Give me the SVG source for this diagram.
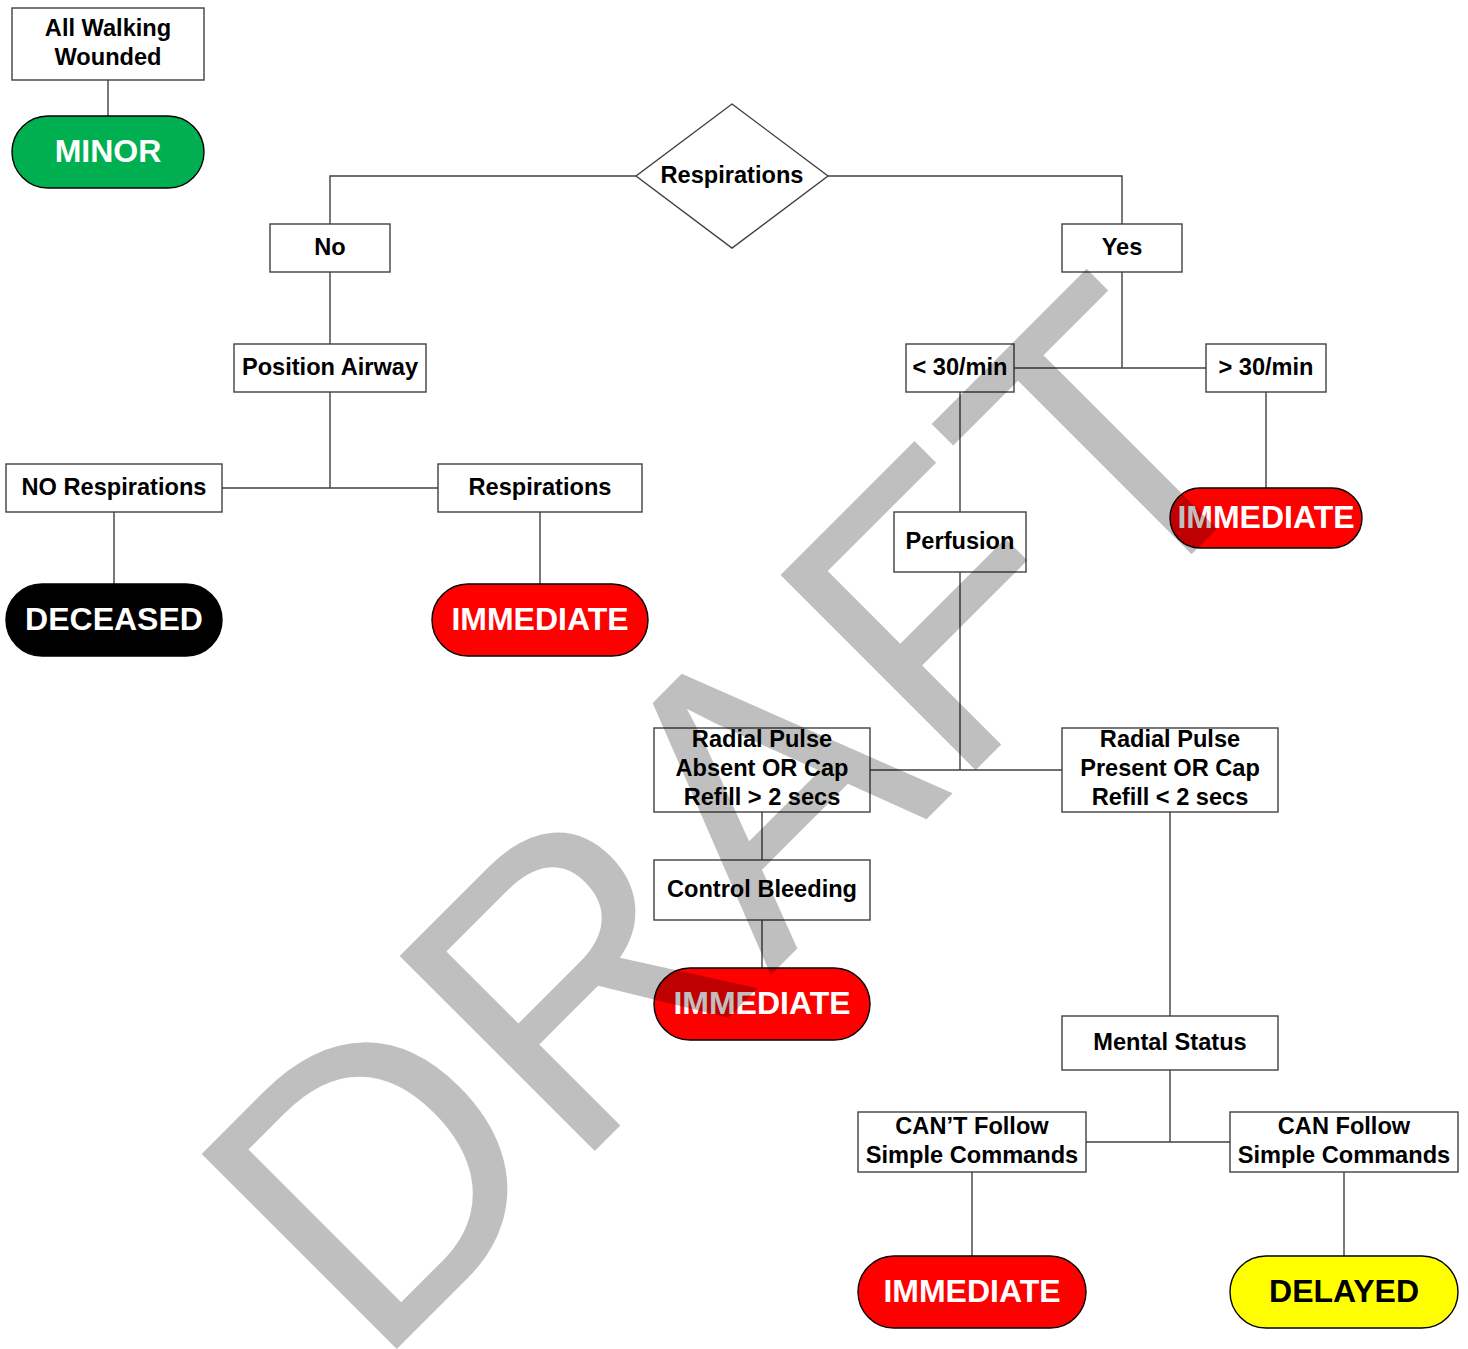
<svg xmlns="http://www.w3.org/2000/svg" width="1468" height="1349" viewBox="0 0 1468 1349">
<style>
.box{fill:#ffffff;stroke:#404040;stroke-width:1.4}
.pill{stroke:#000000;stroke-width:1.4}
.lbl{font-family:"Liberation Sans",Arial,sans-serif;font-weight:bold;font-size:23.6px;fill:#000000;text-anchor:middle}
.term{font-family:"Liberation Sans",Arial,sans-serif;font-weight:bold;font-size:32px;text-anchor:middle}
.con{fill:none;stroke:#404040;stroke-width:1.4}
.wm{font-family:"Liberation Sans",Arial,sans-serif;font-size:382px;fill:#000000;fill-opacity:0.25}
</style>
<rect width="1468" height="1349" fill="#ffffff"/>
<g id="connectors">
<path class="con" d="M108,80V116"/>
<path class="con" d="M636,176H330V224"/>
<path class="con" d="M828,176H1122V224"/>
<path class="con" d="M330,272V344"/>
<path class="con" d="M330,392V488"/>
<path class="con" d="M222,488H438"/>
<path class="con" d="M114,512V584"/>
<path class="con" d="M540,512V584"/>
<path class="con" d="M1122,272V368"/>
<path class="con" d="M1014,368H1206"/>
<path class="con" d="M1266,392V488"/>
<path class="con" d="M960,392V512"/>
<path class="con" d="M960,572V770"/>
<path class="con" d="M870,770H1062"/>
<path class="con" d="M762,812V860"/>
<path class="con" d="M762,920V968"/>
<path class="con" d="M1170,812V1016"/>
<path class="con" d="M1170,1070V1142"/>
<path class="con" d="M1086,1142H1230"/>
<path class="con" d="M972,1172V1256"/>
<path class="con" d="M1344,1172V1256"/>
</g>
<g id="walking"><rect class="box" x="12" y="8" width="192" height="72"/><text class="lbl" x="108" y="36">All Walking</text><text class="lbl" x="108" y="65">Wounded</text></g>
<g id="minor"><rect class="pill" x="12" y="116" width="192" height="72" rx="36" fill="#00b050"/><text class="term" x="108" y="162" fill="#ffffff">MINOR</text></g>
<g id="respirations"><polygon class="box" points="732,104 828,176 732,248 636,176"/><text class="lbl" x="732" y="183">Respirations</text></g>
<g id="no"><rect class="box" x="270" y="224" width="120" height="48"/><text class="lbl" x="330" y="255">No</text></g>
<g id="yes"><rect class="box" x="1062" y="224" width="120" height="48"/><text class="lbl" x="1122" y="255">Yes</text></g>
<g id="position"><rect class="box" x="234" y="344" width="192" height="48"/><text class="lbl" x="330" y="375">Position Airway</text></g>
<g id="norespirations"><rect class="box" x="6" y="464" width="216" height="48"/><text class="lbl" x="114" y="495">NO Respirations</text></g>
<g id="respirations2"><rect class="box" x="438" y="464" width="204" height="48"/><text class="lbl" x="540" y="495">Respirations</text></g>
<g id="deceased"><rect class="pill" x="6" y="584" width="216" height="72" rx="36" fill="#000000"/><text class="term" x="114" y="630" fill="#ffffff">DECEASED</text></g>
<g id="immediate1"><rect class="pill" x="432" y="584" width="216" height="72" rx="36" fill="#ff0000"/><text class="term" x="540" y="630" fill="#ffffff">IMMEDIATE</text></g>
<g id="lt30"><rect class="box" x="906" y="344" width="108" height="48"/><text class="lbl" x="960" y="375">&lt; 30/min</text></g>
<g id="gt30"><rect class="box" x="1206" y="344" width="120" height="48"/><text class="lbl" x="1266" y="375">&gt; 30/min</text></g>
<g id="immediate2"><rect class="pill" x="1170" y="488" width="192" height="60" rx="30" fill="#ff0000"/><text class="term" x="1266" y="528" fill="#ffffff">IMMEDIATE</text></g>
<g id="perfusion"><rect class="box" x="894" y="512" width="132" height="60"/><text class="lbl" x="960" y="549">Perfusion</text></g>
<g id="absent"><rect class="box" x="654" y="728" width="216" height="84"/><text class="lbl" x="762" y="747">Radial Pulse</text><text class="lbl" x="762" y="776">Absent OR Cap</text><text class="lbl" x="762" y="805">Refill &gt; 2 secs</text></g>
<g id="present"><rect class="box" x="1062" y="728" width="216" height="84"/><text class="lbl" x="1170" y="747">Radial Pulse</text><text class="lbl" x="1170" y="776">Present OR Cap</text><text class="lbl" x="1170" y="805">Refill &lt; 2 secs</text></g>
<g id="bleeding"><rect class="box" x="654" y="860" width="216" height="60"/><text class="lbl" x="762" y="897">Control Bleeding</text></g>
<g id="immediate3"><rect class="pill" x="654" y="968" width="216" height="72" rx="36" fill="#ff0000"/><text class="term" x="762" y="1014" fill="#ffffff">IMMEDIATE</text></g>
<g id="mental"><rect class="box" x="1062" y="1016" width="216" height="54"/><text class="lbl" x="1170" y="1050">Mental Status</text></g>
<g id="cant"><rect class="box" x="858" y="1112" width="228" height="60"/><text class="lbl" x="972" y="1134">CAN’T Follow</text><text class="lbl" x="972" y="1163">Simple Commands</text></g>
<g id="can"><rect class="box" x="1230" y="1112" width="228" height="60"/><text class="lbl" x="1344" y="1134">CAN Follow</text><text class="lbl" x="1344" y="1163">Simple Commands</text></g>
<g id="immediate4"><rect class="pill" x="858" y="1256" width="228" height="72" rx="36" fill="#ff0000"/><text class="term" x="972" y="1302" fill="#ffffff">IMMEDIATE</text></g>
<g id="delayed"><rect class="pill" x="1230" y="1256" width="228" height="72" rx="36" fill="#ffff00"/><text class="term" x="1344" y="1302" fill="#000000">DELAYED</text></g>
<text class="wm" x="0" y="0" transform="translate(374.3 1371.5) rotate(-45) scale(1.015 1.05)">DRAFT</text>
</svg>
